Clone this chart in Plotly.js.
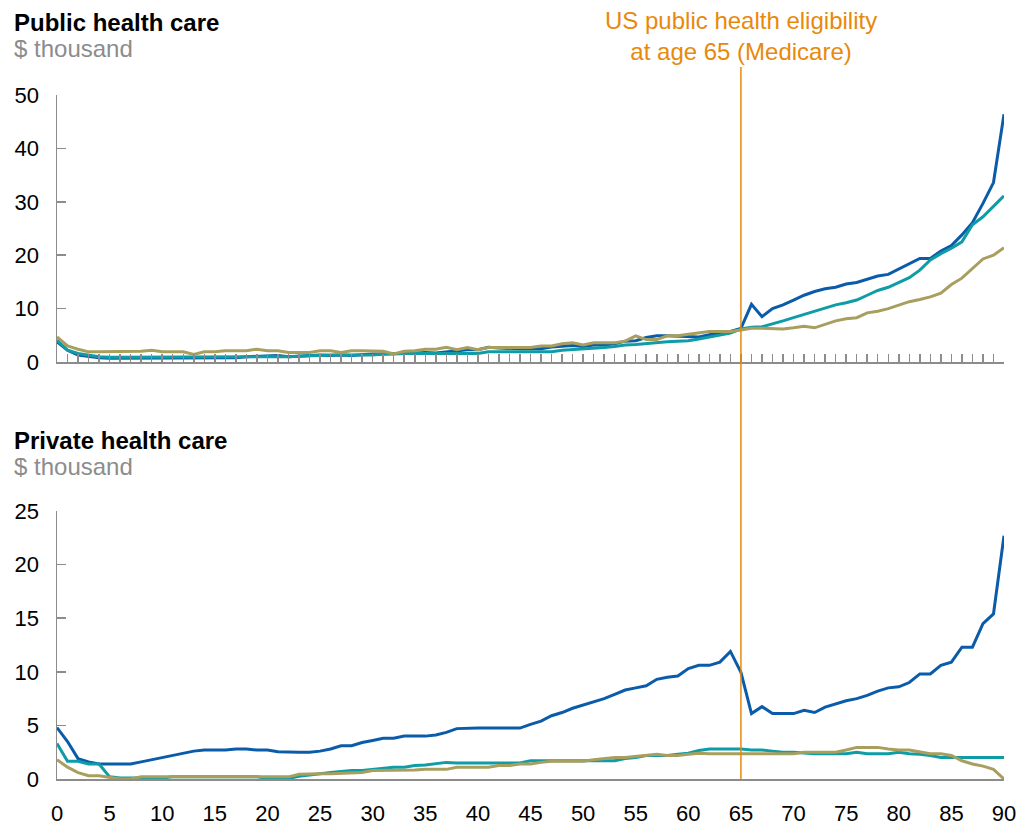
<!DOCTYPE html>
<html>
<head>
<meta charset="utf-8">
<script src="https://cdn.plot.ly/plotly-3.0.1.min.js"></script>
<style>html,body{margin:0;padding:0;background:#fff;}#chart{width:1020px;height:827px;}</style>
</head>
<body>
<div id="chart"></div>
<script>
// Ages 0..90
var ages = [];
for (var a = 0; a <= 90; a++) ages.push(a);

// Public health care, $ thousand
var publicBlue = [3.8,2.2,1.3,1.0,0.8,0.7,0.7,0.7,0.7,0.7,0.7,0.7,0.7,0.7,0.7,0.7,0.7,0.8,1.0,1.1,
  1.1,1.2,1.0,1.1,1.2,1.3,1.2,1.3,1.2,1.4,1.5,1.5,1.5,1.6,1.7,1.8,1.7,1.9,2.1,2.3,
  2.3,2.75,2.6,2.5,2.5,2.5,2.5,2.8,3.0,3.1,2.9,3.2,3.2,3.4,3.9,4.0,4.6,4.9,4.9,4.8,
  4.7,4.7,5.1,5.5,5.7,6.3,10.8,8.5,10.0,10.7,11.6,12.5,13.2,13.7,14.0,14.6,14.9,15.5,16.1,16.4,
  17.4,18.5,19.4,19.4,20.8,21.8,23.8,26.1,29.7,33.6,46.4];
var publicTeal = [4.1,2.2,1.6,1.3,1.0,0.9,0.9,0.9,0.9,0.9,0.9,0.9,0.9,0.9,0.9,0.9,0.9,0.9,0.9,0.9,
  0.9,0.9,1.0,1.1,1.2,1.3,1.3,1.3,1.3,1.3,1.3,1.5,1.6,1.6,1.6,1.6,1.6,1.6,1.6,1.6,
  1.6,1.9,1.9,1.9,1.9,1.9,1.9,1.9,2.2,2.3,2.4,2.5,2.7,2.9,3.2,3.3,3.5,3.6,3.8,3.9,
  4.0,4.3,4.7,5.1,5.4,6.2,6.5,6.6,7.1,7.7,8.3,8.9,9.5,10.0,10.7,11.1,11.6,12.5,13.4,14.0,
  14.9,15.8,17.2,19.1,20.3,21.3,22.5,25.7,27.2,29.1,31.1];
var publicOlive = [4.7,3.0,2.4,1.9,1.9,1.9,1.9,1.9,2.0,2.2,1.9,1.9,1.9,1.4,1.9,1.9,2.1,2.1,2.1,2.4,
  2.1,2.1,1.8,1.8,1.8,2.1,2.1,1.8,2.1,2.1,2.0,2.0,1.5,2.0,2.1,2.4,2.4,2.75,2.3,2.7,
  2.3,2.7,2.7,2.7,2.7,2.7,3.0,3.0,3.4,3.6,3.2,3.6,3.6,3.6,3.9,4.9,4.2,4.2,4.9,4.9,
  5.2,5.5,5.7,5.7,5.7,6.0,6.3,6.3,6.2,6.2,6.4,6.7,6.4,7.1,7.7,8.1,8.3,9.2,9.5,10.0,
  10.7,11.3,11.7,12.2,12.9,14.5,15.7,17.5,19.3,20.0,21.4];

// Private health care, $ thousand
var privateBlue = [4.8,3.5,1.9,1.6,1.4,1.4,1.4,1.4,1.6,1.8,2.0,2.2,2.4,2.6,2.7,2.7,2.7,2.8,2.8,2.7,
  2.7,2.55,2.5,2.5,2.5,2.6,2.8,3.1,3.1,3.4,3.6,3.8,3.8,4.0,4.0,4.0,4.1,4.35,4.7,4.75,
  4.75,4.75,4.75,4.75,4.75,5.1,5.4,5.9,6.2,6.6,6.9,7.15,7.5,7.9,8.3,8.5,8.7,9.3,9.5,9.6,
  10.3,10.6,10.6,10.9,11.9,9.95,6.1,6.75,6.1,6.1,6.1,6.4,6.2,6.7,7.0,7.3,7.5,7.8,8.2,8.5,
  8.6,9.0,9.8,9.8,10.6,10.9,12.3,12.3,14.5,15.4,22.7];
var privateTeal = [3.3,1.65,1.65,1.4,1.4,0.2,0.1,0.1,0.1,0.1,0.1,0.2,0.2,0.2,0.2,0.2,0.2,0.2,0.2,0.2,
  0.05,0.05,0.05,0.25,0.4,0.5,0.6,0.7,0.8,0.8,0.9,0.95,1.1,1.1,1.25,1.3,1.4,1.55,1.5,1.5,
  1.5,1.5,1.5,1.5,1.5,1.7,1.7,1.7,1.7,1.7,1.7,1.7,1.7,1.7,1.9,2.0,2.2,2.2,2.2,2.3,
  2.4,2.65,2.8,2.8,2.8,2.8,2.7,2.7,2.6,2.5,2.5,2.4,2.35,2.35,2.35,2.35,2.5,2.35,2.35,2.35,
  2.5,2.35,2.3,2.2,2.0,2.0,2.0,2.0,2.0,2.0,2.0];
var privateOlive = [1.8,1.1,0.6,0.3,0.3,0.15,0.0,0.0,0.2,0.2,0.2,0.2,0.2,0.2,0.2,0.2,0.2,0.2,0.2,0.2,
  0.2,0.2,0.2,0.45,0.5,0.5,0.5,0.55,0.55,0.6,0.8,0.8,0.8,0.85,0.85,0.9,0.9,0.9,1.1,1.1,
  1.1,1.1,1.25,1.25,1.4,1.4,1.55,1.65,1.65,1.65,1.65,1.8,1.9,2.0,2.0,2.1,2.2,2.3,2.2,2.2,
  2.3,2.4,2.35,2.35,2.35,2.35,2.35,2.35,2.35,2.35,2.35,2.5,2.5,2.5,2.5,2.7,2.95,2.95,2.95,2.8,
  2.7,2.7,2.5,2.35,2.35,2.2,1.7,1.4,1.2,0.9,0.0];

var xTickVals = [0,5,10,15,20,25,30,35,40,45,50,55,60,65,70,75,80,85,90];
var eligibilityAge = 65;
var annotationText = "US public health eligibility<br>at age 65 (Medicare)";
var topTitle = "Public health care";
var bottomTitle = "Private health care";
var unitText = "$ thousand";

var BLUE = "#0A5CAA", TEAL = "#0E9CA6", OLIVE = "#A89F5E", ORANGE = "#E8890C", AXIS = "#8C8C8C";
var FONT = "Liberation Sans, Arial, sans-serif";

function tr(y, color, xa, ya) {
  return {x: ages, y: y, type: "scatter", mode: "lines", xaxis: xa, yaxis: ya,
    line: {color: color, width: 3}, hoverinfo: "skip", showlegend: false};
}

var data = [
  tr(publicBlue, BLUE, "x2", "y2"),
  tr(publicTeal, TEAL, "x2", "y2"),
  tr(publicOlive, OLIVE, "x2", "y2"),
  tr(privateBlue, BLUE, "x", "y"),
  tr(privateTeal, TEAL, "x", "y"),
  tr(privateOlive, OLIVE, "x", "y")
];

var H = 684;
var TICKFONT = {family: FONT, size: 22, color: "#000"};
var layout = {
  width: 1020, height: 827,
  margin: {l: 57, r: 16, t: 95, b: 48},
  paper_bgcolor: "#fff", plot_bgcolor: "rgba(0,0,0,0)",
  font: {family: FONT, size: 22, color: "#000"},
  showlegend: false,
  xaxis: {domain: [0, 1], range: [0, 90], anchor: "y", tickvals: xTickVals, ticks: "",
    showgrid: false, zeroline: false, showline: true, linecolor: AXIS, linewidth: 1.5,
    ticklabelstandoff: 14, tickfont: TICKFONT},
  yaxis: {domain: [0, (779 - 511) / H], range: [0, 25], dtick: 5, ticks: "inside", ticklen: 9,
    tickcolor: AXIS, tickwidth: 1.5, showgrid: false, zeroline: false, showline: true,
    linecolor: AXIS, linewidth: 1.5, ticklabelstandoff: 12, tickfont: TICKFONT},
  xaxis2: {domain: [0, 1], range: [0, 90], anchor: "y2", dtick: 1, tick0: 0, ticks: "inside",
    ticklen: 8, tickcolor: AXIS, tickwidth: 1.5, showticklabels: false,
    showgrid: false, zeroline: false, showline: true, linecolor: AXIS, linewidth: 1.5},
  yaxis2: {domain: [(779 - 362) / H, 1], range: [0, 50], dtick: 10, ticks: "inside", ticklen: 9,
    tickcolor: AXIS, tickwidth: 1.5, showgrid: false, zeroline: false, showline: true,
    linecolor: AXIS, linewidth: 1.5, ticklabelstandoff: 12, tickfont: TICKFONT},
  shapes: [{type: "line", xref: "x", yref: "paper", x0: eligibilityAge, x1: eligibilityAge,
    y0: 0, y1: (779 - 67) / H, line: {color: ORANGE, width: 1.5}}],
  annotations: [
    {xref: "x", yref: "paper", x: eligibilityAge, y: (779 - 36) / H, text: annotationText,
      showarrow: false, xanchor: "center", yanchor: "middle", align: "center",
      font: {family: FONT, size: 24, color: ORANGE}},
    {xref: "paper", yref: "paper", x: -45 / 947, y: (779 - 22) / H, text: "<b>" + topTitle + "</b>",
      showarrow: false, xanchor: "left", yanchor: "middle", font: {family: FONT, size: 24, color: "#000"}},
    {xref: "paper", yref: "paper", x: -45 / 947, y: (779 - 48) / H, text: unitText,
      showarrow: false, xanchor: "left", yanchor: "middle", font: {family: FONT, size: 24, color: "#8C8C8C"}},
    {xref: "paper", yref: "paper", x: -45 / 947, y: (779 - 440) / H, text: "<b>" + bottomTitle + "</b>",
      showarrow: false, xanchor: "left", yanchor: "middle", font: {family: FONT, size: 24, color: "#000"}},
    {xref: "paper", yref: "paper", x: -45 / 947, y: (779 - 466) / H, text: unitText,
      showarrow: false, xanchor: "left", yanchor: "middle", font: {family: FONT, size: 24, color: "#8C8C8C"}}
  ]
};

Plotly.newPlot("chart", data, layout, {staticPlot: true, displayModeBar: false});
</script>
</body>
</html>
